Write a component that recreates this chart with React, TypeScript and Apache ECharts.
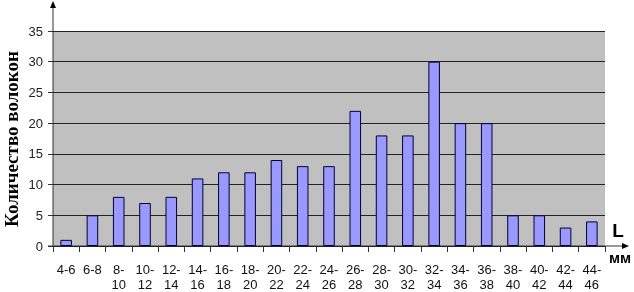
import React, { useEffect, useRef } from "react";
import * as echarts from "echarts";

const categories = ["4-6","6-8","8-10","10-12","12-14","14-16","16-18","18-20","20-22","22-24","24-26","26-28","28-30","30-32","32-34","34-36","36-38","38-40","40-42","42-44","44-46"];
const counts = [1,5,8,7,8,11,12,12,14,13,13,22,18,18,30,20,20,5,5,3,4];
const yTicks = { min: 0, max: 35, interval: 5 };
const yTitle = "Количество волокон";
const xUnitTop = "L";
const xUnitBottom = "мм";

export default function App() {
  const ref = useRef<HTMLDivElement>(null);
  useEffect(() => {
    if (!ref.current) return;
    const chart = echarts.init(ref.current, null, { renderer: "svg" });
    chart.setOption({
      animation: false,
      grid: { left: 53, right: 29, top: 31, bottom: 46, show: true, backgroundColor: "#C0C0C0", borderWidth: 0, containLabel: false, outerBoundsMode: "none" },
      xAxis: {
        type: "category",
        data: categories,
        axisLine: { show: false },
        axisTick: { show: true, alignWithLabel: false, length: 6, lineStyle: { color: "#333", width: 1 } },
        axisLabel: {
          interval: 0,
          margin: 16,
          fontSize: 13,
          lineHeight: 15,
          fontFamily: "Arial, 'Liberation Sans', sans-serif",
          color: "#111",
          formatter: (v: string) => (v.length > 3 ? v.replace("-", "-\n") : v),
        },
      },
      yAxis: {
        type: "value",
        min: yTicks.min,
        max: yTicks.max,
        interval: yTicks.interval,
        axisLine: { show: false },
        axisTick: { show: true, length: 5, lineStyle: { color: "#333" } },
        axisLabel: { fontSize: 13, margin: 10, fontFamily: "Arial, 'Liberation Sans', sans-serif", color: "#222" },
        splitLine: { show: true, lineStyle: { color: "#222", width: 1 } },
      },
      series: [
        {
          type: "bar",
          data: counts,
          barWidth: "44%",
          itemStyle: { color: "#9999FF", borderColor: "#000033", borderWidth: 1 },
        },
      ],
      graphic: [
        { type: "text", x: 11, y: 139, rotation: Math.PI / 2, style: { text: yTitle, font: "bold 19px 'Liberation Serif', 'Times New Roman', serif", fill: "#000", align: "center", verticalAlign: "middle" } },
        { type: "line", shape: { x1: 53, y1: 246, x2: 53, y2: 4 }, style: { stroke: "#333", lineWidth: 1 } },
        { type: "polygon", shape: { points: [[53, 1], [50, 8], [56, 8]] }, style: { fill: "#000" } },
        { type: "line", shape: { x1: 48, y1: 246, x2: 625, y2: 246 }, style: { stroke: "#333", lineWidth: 1 } },
        { type: "polygon", shape: { points: [[629, 246], [622, 243], [622, 249]] }, style: { fill: "#000" } },
        { type: "text", x: 618, y: 230, style: { text: xUnitTop, font: "bold 19px Arial, 'Liberation Sans', sans-serif", fill: "#000", align: "center", verticalAlign: "middle" } },
        { type: "text", x: 620, y: 257, style: { text: xUnitBottom, font: "bold 15px Arial, 'Liberation Sans', sans-serif", fill: "#000", align: "center", verticalAlign: "middle" } },
      ],
    });
    return () => chart.dispose();
  }, []);
  return <div ref={ref} style={{ width: 634, height: 292, position: "fixed", left: 0, top: 0 }} />;
}
